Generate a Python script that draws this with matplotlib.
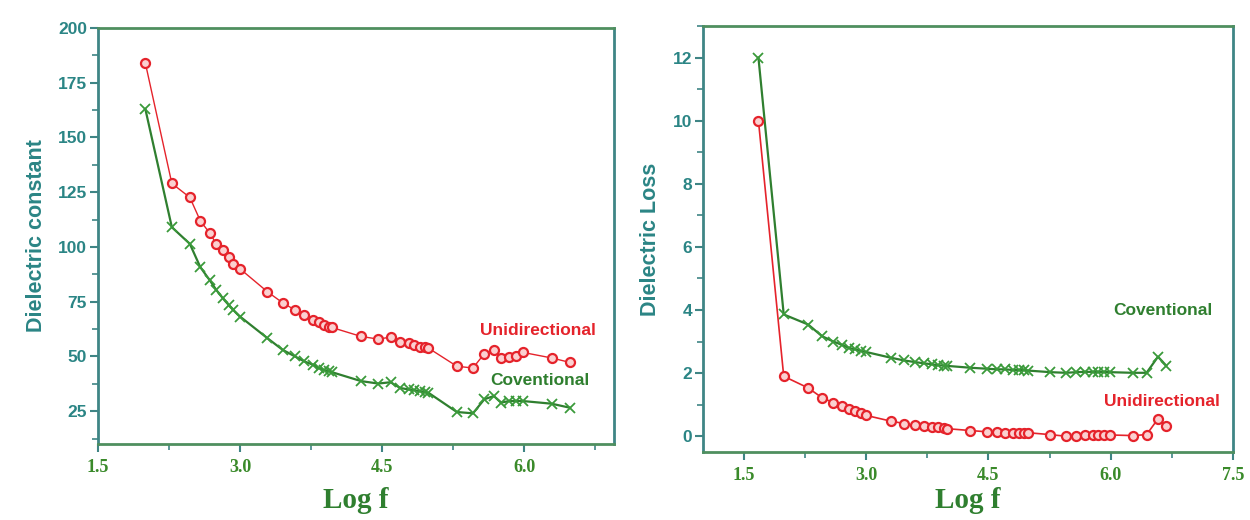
import matplotlib
matplotlib.use("Agg")
import matplotlib.pyplot as plt
from matplotlib.ticker import MultipleLocator, FormatStrFormatter

# ---------------- data ----------------
# Left panel: dielectric constant vs log f
logf_left = [2.00, 2.28, 2.47, 2.58, 2.68, 2.75, 2.82, 2.88, 2.93, 3.00,
             3.29, 3.45, 3.58, 3.68, 3.77, 3.83, 3.89, 3.94, 3.97,
             4.28, 4.46, 4.59, 4.69, 4.78, 4.84, 4.90, 4.95, 4.99,
             5.29, 5.46, 5.58, 5.68, 5.76, 5.84, 5.91, 5.99, 6.29, 6.48]
eps_uni = [184, 129, 122.6, 112, 106.3, 101.4, 98.4, 95.4, 92.3, 90,
           79.5, 74.5, 71.2, 68.9, 66.7, 65.5, 64.4, 63.6, 63.2,
           59.1, 57.9, 58.8, 56.4, 56.0, 55.3, 54.5, 54.1, 53.8,
           45.5, 44.7, 51.2, 52.7, 49.3, 49.7, 50.3, 51.8, 49.3, 47.3]
eps_conv = [163, 109, 101.4, 90.8, 84.8, 80.3, 76.5, 73.5, 71.2, 68.2,
            58.3, 53.0, 50.0, 47.7, 46.2, 44.7, 43.7, 43.2, 42.8,
            38.7, 37.6, 38.2, 35.6, 34.9, 34.6, 34.1, 33.7, 33.4,
            24.6, 24.0, 30.4, 31.9, 28.9, 29.6, 29.6, 29.6, 28.4, 26.6]

# Right panel: dielectric loss vs log f
logf_right = [1.68, 1.99, 2.29, 2.46, 2.60, 2.70, 2.79, 2.87, 2.94, 3.00,
              3.30, 3.47, 3.60, 3.71, 3.81, 3.88, 3.95, 3.99,
              4.28, 4.48, 4.60, 4.70, 4.80, 4.87, 4.94, 4.99,
              5.26, 5.45, 5.58, 5.68, 5.78, 5.85, 5.92, 5.99,
              6.27, 6.44, 6.58, 6.68]
loss_conv = [12.0, 3.86, 3.54, 3.17, 3.00, 2.90, 2.80, 2.75, 2.70, 2.67,
             2.49, 2.40, 2.35, 2.31, 2.28, 2.25, 2.24, 2.23,
             2.17, 2.14, 2.12, 2.12, 2.10, 2.10, 2.10, 2.08,
             2.03, 2.01, 2.03, 2.04, 2.04, 2.04, 2.04, 2.03,
             2.01, 2.01, 2.52, 2.24]
loss_uni = [10.0, 1.90, 1.53, 1.22, 1.06, 0.95, 0.87, 0.79, 0.74, 0.66,
            0.48, 0.40, 0.34, 0.32, 0.30, 0.28, 0.26, 0.24,
            0.18, 0.14, 0.13, 0.11, 0.11, 0.11, 0.11, 0.11,
            0.05, 0.00, 0.02, 0.03, 0.03, 0.04, 0.04, 0.04,
            0.02, 0.05, 0.55, 0.32]

series_names = ["Unidirectional", "Coventional"]

# ---------------- style ----------------
RED = "#e5232b"
GREEN = "#2f7f2f"
TEAL = "#2b8585"
XGREEN = "#3a8a2a"
SPINE_H = "#4f8f5f"
SPINE_V = "#3f8585"

fig = plt.figure(figsize=(12.5, 5.2), dpi=100)
axL = fig.add_axes([0.0784, 0.1462, 0.4128, 0.800])
axR = fig.add_axes([0.5624, 0.1308, 0.4240, 0.819])

def style_axes(ax, ylabel, xlim, ylim, ymaj, ymin, yfmt, xlabelpad):
    ax.set_xlim(*xlim)
    ax.set_ylim(*ylim)
    ax.xaxis.set_major_locator(MultipleLocator(1.5))
    ax.xaxis.set_minor_locator(MultipleLocator(0.75))
    ax.xaxis.set_major_formatter(FormatStrFormatter("%.1f"))
    ax.yaxis.set_major_locator(MultipleLocator(ymaj))
    ax.yaxis.set_minor_locator(MultipleLocator(ymin))
    ax.yaxis.set_major_formatter(FormatStrFormatter(yfmt))
    for s in ("top", "bottom"):
        ax.spines[s].set_color(SPINE_H)
        ax.spines[s].set_linewidth(2.0)
    for s in ("left", "right"):
        ax.spines[s].set_color(SPINE_V)
        ax.spines[s].set_linewidth(2.0)
    ax.tick_params(axis="both", which="major", direction="out", length=6, width=1.5,
                   colors=SPINE_V, top=False, right=False)
    ax.tick_params(axis="both", which="minor", direction="out", length=4, width=1.2,
                   colors=SPINE_V, top=False, right=False)
    ax.tick_params(axis="y", labelcolor=TEAL, pad=2)
    ax.tick_params(axis="x", labelcolor=XGREEN, pad=5)
    for lab in ax.get_yticklabels():
        lab.set_fontfamily("Liberation Sans")
        lab.set_fontweight("bold")
        lab.set_fontsize(12.5)
    for lab in ax.get_xticklabels():
        lab.set_fontfamily("Liberation Serif")
        lab.set_fontweight("bold")
        lab.set_fontsize(13)
    ax.set_ylabel(ylabel, color=TEAL, fontfamily="Liberation Sans",
                  fontweight="bold", fontsize=15.5, labelpad=8)
    ax.set_xlabel("Log f", color=GREEN, fontfamily="Liberation Serif",
                  fontweight="bold", fontsize=21, labelpad=xlabelpad)

# Left panel
axL.plot(logf_left, eps_uni, color=RED, lw=1.0, marker="o", ms=6.5,
         mfc="#fbd0d0", mec=RED, mew=1.6, zorder=3)
axL.plot(logf_left, eps_conv, color=GREEN, lw=1.6, marker="x", ms=7,
         mec="#3a9a3a", mew=1.3, zorder=2)
style_axes(axL, "Dielectric constant", (1.5, 6.95), (10, 200), 25, 12.5, "%d", 8)
axL.text(6.15, 62, series_names[0], color=RED, fontfamily="Liberation Sans",
         fontweight="bold", fontsize=12.5, ha="center", va="center")
axL.text(6.17, 39, series_names[1], color=GREEN, fontfamily="Liberation Sans",
         fontweight="bold", fontsize=12.5, ha="center", va="center")

# Right panel
axR.plot(logf_right, loss_conv, color=GREEN, lw=1.6, marker="x", ms=7,
         mec="#3a9a3a", mew=1.3, zorder=2)
axR.plot(logf_right, loss_uni, color=RED, lw=1.2, marker="o", ms=6.5,
         mfc="#fbd0d0", mec=RED, mew=1.6, zorder=3)
style_axes(axR, "Dielectric Loss", (1.0, 7.5), (-0.5, 13), 2, 1, "%d", 2)
axR.text(6.64, 4.0, series_names[1], color=GREEN, fontfamily="Liberation Sans",
         fontweight="bold", fontsize=12.5, ha="center", va="center")
axR.text(6.63, 1.1, series_names[0], color=RED, fontfamily="Liberation Sans",
         fontweight="bold", fontsize=12.5, ha="center", va="center")

fig.savefig("out.png", dpi=100, facecolor="white")
